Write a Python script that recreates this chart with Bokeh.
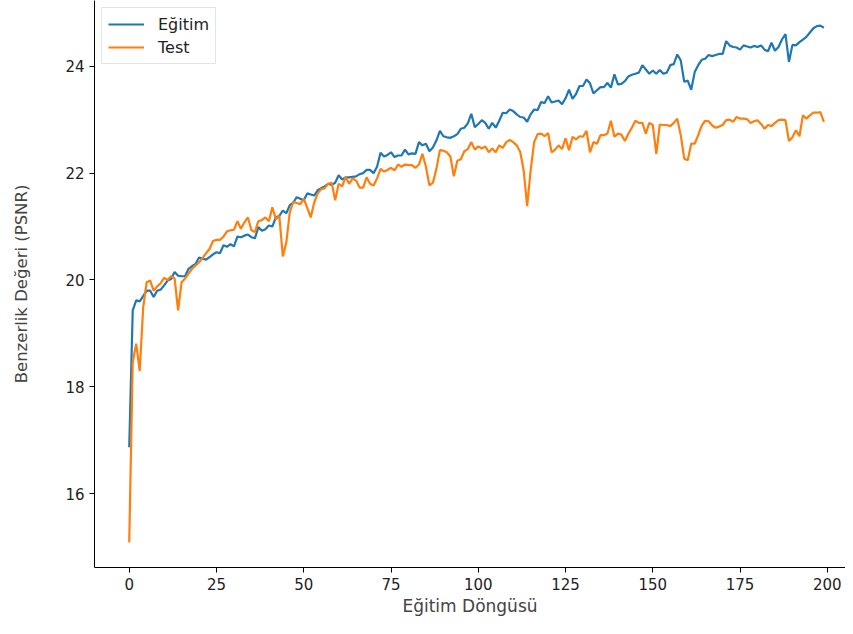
from bokeh.plotting import figure
from bokeh.models import Range1d, FixedTicker, Legend, LegendItem
from bokeh.embed import file_html
from bokeh.resources import INLINE

epochs = list(range(200))

egitim = [
    16.87, 19.43, 19.62, 19.60, 19.70, 19.80, 19.80, 19.68, 19.80, 19.82,
    19.90, 19.99, 20.02, 20.15, 20.08, 20.07, 20.07, 20.21, 20.26, 20.30,
    20.42, 20.40, 20.38, 20.43, 20.48, 20.52, 20.50, 20.65, 20.62, 20.67,
    20.63, 20.81, 20.80, 20.83, 20.85, 20.80, 20.78, 20.99, 20.92, 20.95,
    21.02, 21.00, 21.17, 21.20, 21.30, 21.25, 21.40, 21.45, 21.55, 21.52,
    21.49, 21.62, 21.60, 21.58, 21.68, 21.72, 21.75, 21.80, 21.78, 21.82,
    21.96, 21.88, 21.92, 21.92, 21.93, 21.94, 21.98, 22.00, 22.06, 22.06,
    22.00, 22.12, 22.38, 22.31, 22.34, 22.39, 22.30, 22.33, 22.33, 22.44,
    22.35, 22.37, 22.36, 22.58, 22.52, 22.55, 22.41, 22.48, 22.61, 22.79,
    22.69, 22.67, 22.66, 22.69, 22.73, 22.83, 22.85, 22.93, 23.11, 22.86,
    22.92, 22.99, 22.94, 22.83, 22.94, 22.85, 22.98, 23.13, 23.12, 23.19,
    23.16, 23.10, 23.05, 23.04, 22.96, 23.10, 23.19, 23.18, 23.33, 23.31,
    23.44, 23.32, 23.34, 23.36, 23.29, 23.40, 23.56, 23.39, 23.48, 23.63,
    23.63, 23.75, 23.68, 23.49, 23.55, 23.61, 23.61, 23.69, 23.60, 23.85,
    23.66, 23.67, 23.72, 23.81, 23.84, 23.86, 23.88, 24.02, 23.94, 23.86,
    23.92, 23.86, 23.93, 23.86, 23.88, 24.02, 24.04, 24.22, 24.11, 23.71,
    23.73, 23.56, 23.89, 24.02, 24.12, 24.14, 24.21, 24.19, 24.21, 24.23,
    24.23, 24.47, 24.39, 24.36, 24.35, 24.31, 24.39, 24.37, 24.35, 24.38,
    24.36, 24.39, 24.31, 24.28, 24.44, 24.29, 24.36, 24.50, 24.60, 24.08,
    24.40, 24.39, 24.45, 24.50, 24.55, 24.63, 24.71, 24.75, 24.76, 24.72,
]

test = [
    15.09, 18.46, 18.81, 18.30, 19.49, 19.96, 19.99, 19.80, 19.88, 19.94,
    20.04, 20.00, 20.07, 20.03, 19.43, 19.96, 20.03, 20.12, 20.21, 20.27,
    20.33, 20.41, 20.50, 20.58, 20.73, 20.75, 20.75, 20.81, 20.91, 20.93,
    20.94, 21.10, 20.96, 21.08, 21.17, 20.93, 20.90, 21.10, 21.12, 21.17,
    21.10, 21.36, 21.14, 21.20, 20.44, 20.70, 21.27, 21.46, 21.44, 21.42,
    21.52, 21.35, 21.17, 21.45, 21.62, 21.70, 21.72, 21.80, 21.82, 21.49,
    21.80, 21.75, 21.93, 21.80, 21.90, 21.86, 21.73, 21.73, 21.92, 21.80,
    21.77, 21.90, 22.08, 22.03, 22.06, 22.10, 22.05, 22.16, 22.12, 22.16,
    22.15, 22.15, 22.10, 22.16, 22.36, 22.12, 21.77, 21.82, 22.08, 22.43,
    22.42, 22.39, 22.31, 21.94, 22.23, 22.26, 22.41, 22.45, 22.58, 22.44,
    22.50, 22.46, 22.50, 22.39, 22.46, 22.39, 22.52, 22.47, 22.58, 22.62,
    22.58, 22.52, 22.40, 22.05, 21.38, 22.05, 22.58, 22.73, 22.74, 22.69,
    22.75, 22.39, 22.44, 22.52, 22.45, 22.65, 22.43, 22.68, 22.63, 22.69,
    22.68, 22.79, 22.39, 22.58, 22.55, 22.71, 22.71, 22.74, 22.98, 22.68,
    22.74, 22.72, 22.60, 22.74, 22.85, 22.98, 22.94, 22.94, 22.74, 22.94,
    22.90, 22.36, 22.91, 22.90, 22.90, 22.88, 22.94, 23.02, 22.71, 22.27,
    22.24, 22.55, 22.55, 22.71, 22.89, 22.98, 22.97, 22.89, 22.85, 22.87,
    22.90, 22.99, 23.00, 22.96, 23.05, 23.02, 23.02, 23.01, 22.94, 22.97,
    22.99, 22.92, 22.83, 22.90, 22.88, 22.94, 22.99, 23.00, 22.99, 22.60,
    22.67, 22.80, 22.69, 23.08, 23.02, 23.08, 23.13, 23.13, 23.14, 22.96,
]

x_ticks = [0, 25, 50, 75, 100, 125, 150, 175, 200]
y_ticks = [16, 18, 20, 22, 24]
series_labels = ["Eğitim", "Test"]
x_title = "Eğitim Döngüsü"
y_title = "Benzerlik Değeri (PSNR)"

FONT = "DejaVu Sans"

p = figure(
    width=845, height=626,
    output_backend="svg", toolbar_location=None,
    x_range=Range1d(-9.95, 205.2), y_range=Range1d(14.62, 25.23),
    min_border_left=94, min_border_right=0, min_border_top=0, min_border_bottom=59,
)
p.outline_line_color = None
p.background_fill_color = "white"
p.border_fill_color = "white"
p.xgrid.visible = False
p.ygrid.visible = False

r1 = p.line(epochs, egitim, line_color="#1f77b4", line_width=2.2)
r2 = p.line(epochs, test, line_color="#ff7f0e", line_width=2.2)

for ax in (p.xaxis[0], p.yaxis[0]):
    ax.axis_line_color = "#000000"
    ax.axis_line_width = 1
    ax.major_tick_line_color = "#000000"
    ax.major_tick_out = 5
    ax.major_tick_in = 0
    ax.minor_tick_line_color = None
    ax.major_label_text_font = FONT
    ax.major_label_text_font_size = "15px"
    ax.major_label_text_color = "#222222"
    ax.axis_label_text_font = FONT
    ax.axis_label_text_font_style = "normal"
    ax.axis_label_text_color = "#444444"

p.xaxis[0].ticker = FixedTicker(ticks=x_ticks)
p.yaxis[0].ticker = FixedTicker(ticks=y_ticks)
p.xaxis[0].axis_label = x_title
p.yaxis[0].axis_label = y_title
p.xaxis[0].axis_label_text_font_size = "17px"
p.yaxis[0].axis_label_text_font_size = "16.5px"
p.xaxis[0].axis_label_standoff = 3
p.yaxis[0].axis_label_standoff = 31

legend = Legend(
    items=[LegendItem(label=series_labels[0], renderers=[r1]),
           LegendItem(label=series_labels[1], renderers=[r2])],
    location="top_left",
)
legend.label_text_font = FONT
legend.label_text_font_size = "16px"
legend.label_text_color = "#222222"
legend.border_line_color = "#cccccc"
legend.border_line_width = 1
legend.background_fill_color = "white"
legend.background_fill_alpha = 0.8
legend.glyph_width = 36
legend.glyph_height = 20
legend.label_standoff = 14
legend.padding = 6
legend.spacing = 3
legend.margin = 7
p.add_layout(legend)

open("out.html", "w").write(file_html(p, INLINE))
